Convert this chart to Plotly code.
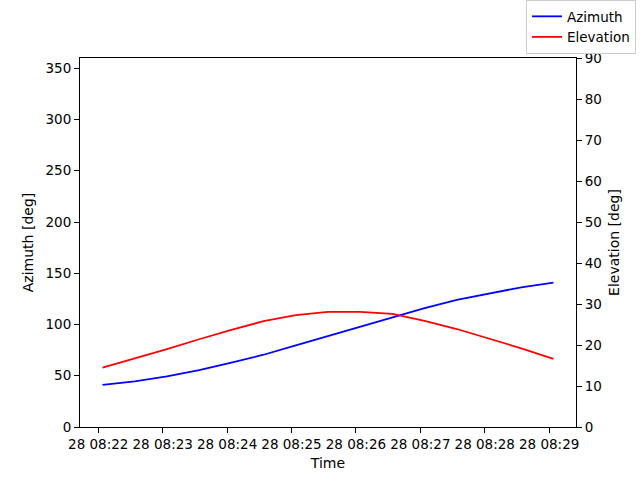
import plotly.graph_objects as go

# time stamps every 30 s
tiempos = ['2024-03-28 08:22:04', '2024-03-28 08:22:34', '2024-03-28 08:23:04',
           '2024-03-28 08:23:34', '2024-03-28 08:24:04', '2024-03-28 08:24:34',
           '2024-03-28 08:25:04', '2024-03-28 08:25:34', '2024-03-28 08:26:04',
           '2024-03-28 08:26:34', '2024-03-28 08:27:04', '2024-03-28 08:27:34',
           '2024-03-28 08:28:04', '2024-03-28 08:28:34', '2024-03-28 08:29:04']
azimut = [41.0, 44.6, 49.4, 55.6, 62.7, 70.5, 79.7, 88.8, 98.5, 107.6,
          116.0, 124.0, 130.4, 136.3, 140.8]
elevacion = [14.5, 16.7, 19.0, 21.4, 23.7, 25.8, 27.3, 28.1, 28.1, 27.6,
             25.9, 23.9, 21.6, 19.2, 16.6]

fuente = dict(family='DejaVu Sans', size=14, color='black')
fuente_ticks = dict(family='DejaVu Sans', size=13.5, color='black')

fig = go.Figure()
fig.add_trace(go.Scatter(x=tiempos, y=azimut, mode='lines', name='Azimuth',
                         line=dict(color='blue', width=1.8), yaxis='y'))
fig.add_trace(go.Scatter(x=tiempos, y=elevacion, mode='lines', name='Elevation',
                         line=dict(color='red', width=1.8), yaxis='y2'))

eje = dict(showgrid=False, zeroline=False, showline=True, linecolor='black',
           linewidth=1, ticks='outside', ticklen=5, tickcolor='black',
           tickfont=fuente_ticks, automargin=False)

fig.update_layout(
    width=640, height=480,
    margin=dict(l=80, r=64, t=58, b=53, autoexpand=False),
    plot_bgcolor='white', paper_bgcolor='white',
    font=fuente,
    xaxis=dict(eje, type='date', range=['2024-03-28 08:21:43', '2024-03-28 08:29:25'],
               tickformat='%d %H:%M', dtick=60000, tick0='2024-03-28 08:22:00',
               tickangle=0, mirror=True,
               title=dict(text='Time', font=fuente, standoff=6)),
    yaxis=dict(eje, range=[0, 360], dtick=50,
               title=dict(text='Azimuth [deg]', font=fuente, standoff=8)),
    yaxis2=dict(eje, range=[0, 90], dtick=10, overlaying='y', side='right',
                title=dict(text='Elevation [deg]', font=fuente, standoff=8)),
    legend=dict(x=1.121, xanchor='right', y=1.157, yanchor='top', itemwidth=30,
                bgcolor='rgba(255,255,255,0.8)', bordercolor='#cccccc', borderwidth=1,
                font=dict(fuente, size=13.5), tracegroupgap=0),
    showlegend=True,
)

fig.write_html("out.html", config={'displayModeBar': False},
               post_script="document.body.style.margin='0';")
